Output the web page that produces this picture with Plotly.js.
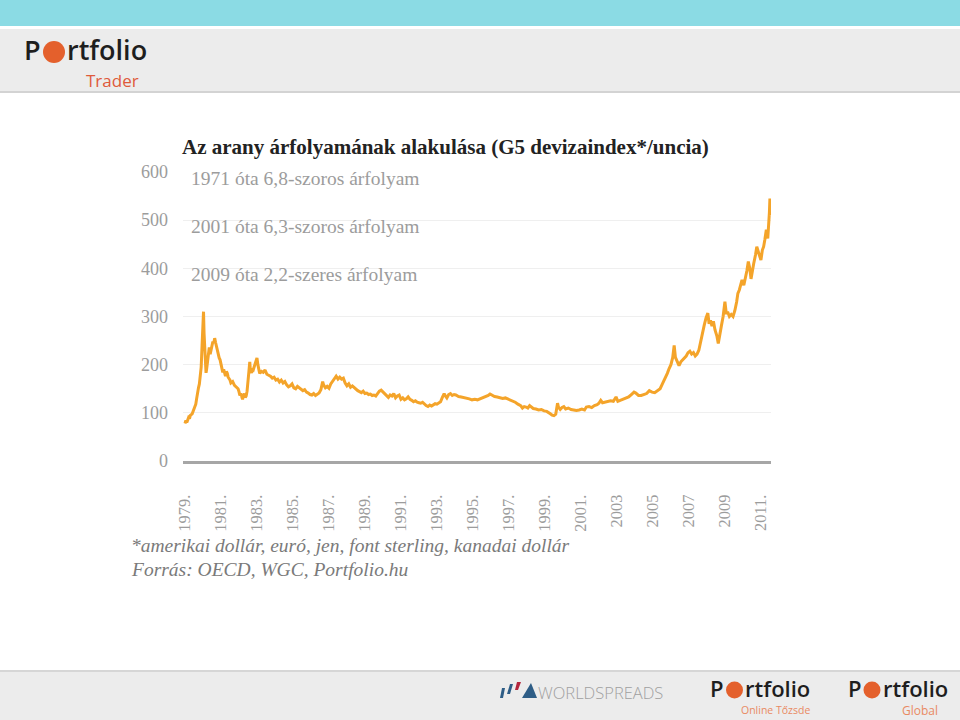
<!DOCTYPE html>
<html>
<head>
<meta charset="utf-8">
<script src="https://cdn.plot.ly/plotly-3.0.1.min.js"></script>
<style>
html,body{margin:0;padding:0;background:#fff;}
#chart{width:960px;height:720px;}
</style>
</head>
<body>
<div id="chart"></div>
<script>
// ---- data ----
const goldYears = [
1979.00,1979.05,1979.10,1979.15,1979.20,1979.25,1979.30,1979.40,1979.45,1979.50,1979.55,1979.60,1979.65,1979.70,1979.75,1979.80,1979.85,1979.90,1979.95,
1980.00,1980.03,1980.06,1980.10,1980.13,1980.17,1980.20,1980.25,1980.30,1980.35,1980.40,1980.45,1980.50,1980.55,1980.60,1980.65,1980.70,1980.75,1980.80,1980.85,1980.90,1980.95,
1981.00,1981.05,1981.10,1981.15,1981.20,1981.25,1981.30,1981.35,1981.40,1981.50,1981.55,1981.65,1981.75,1981.85,1981.95,
1982.00,1982.05,1982.10,1982.15,1982.20,1982.25,1982.30,1982.35,1982.40,1982.45,1982.50,1982.55,1982.60,1982.63,1982.70,1982.75,1982.80,1982.90,1982.95,
1983.00,1983.05,1983.10,1983.15,1983.25,1983.35,1983.45,1983.55,1983.65,1983.75,1983.85,1983.95,
1984.05,1984.15,1984.25,1984.35,1984.45,1984.55,1984.65,1984.75,1984.85,1984.95,
1985.05,1985.15,1985.25,1985.35,1985.45,1985.55,1985.65,1985.75,1985.85,1985.95,
1986.05,1986.15,1986.25,1986.35,1986.45,1986.55,1986.65,1986.70,1986.80,1986.90,
1987.00,1987.10,1987.20,1987.30,1987.40,1987.50,1987.60,1987.70,1987.80,1987.90,
1988.00,1988.10,1988.20,1988.30,1988.40,1988.50,1988.60,1988.70,1988.80,1988.90,
1989.00,1989.10,1989.20,1989.30,1989.40,1989.50,1989.60,1989.70,1989.80,1989.90,
1990.00,1990.10,1990.20,1990.30,1990.40,1990.50,1990.60,1990.70,1990.80,1990.90,
1991.00,1991.10,1991.20,1991.30,1991.40,1991.50,1991.60,1991.70,1991.80,1991.90,
1992.00,1992.10,1992.20,1992.30,1992.40,1992.50,1992.60,1992.70,1992.80,1992.90,
1993.00,1993.10,1993.20,1993.30,1993.40,1993.45,1993.55,1993.65,1993.75,1993.85,1993.95,
1994.05,1994.20,1994.35,1994.50,1994.65,1994.80,1994.95,
1995.10,1995.25,1995.40,1995.55,1995.70,1995.85,1995.95,
1996.05,1996.20,1996.35,1996.50,1996.65,1996.80,1996.95,
1997.05,1997.20,1997.35,1997.50,1997.65,1997.75,1997.85,1997.95,
1998.05,1998.15,1998.25,1998.35,1998.50,1998.65,1998.80,1998.95,
1999.10,1999.20,1999.30,1999.40,1999.50,1999.60,1999.70,1999.75,1999.85,1999.95,
2000.05,2000.15,2000.30,2000.45,2000.60,2000.75,2000.90,
2001.05,2001.20,2001.30,2001.45,2001.60,2001.75,2001.90,
2002.00,2002.10,2002.20,2002.35,2002.50,2002.65,2002.80,2002.95,
2003.05,2003.20,2003.35,2003.50,2003.65,2003.80,2003.95,
2004.05,2004.20,2004.35,2004.50,2004.65,2004.80,2004.95,
2005.10,2005.25,2005.40,2005.50,2005.60,2005.70,2005.80,2005.90,
2006.00,2006.10,2006.18,2006.25,2006.35,2006.45,2006.55,2006.65,2006.75,2006.85,2006.95,
2007.05,2007.15,2007.25,2007.35,2007.45,2007.55,2007.65,2007.75,2007.85,2007.95,
2008.05,2008.12,2008.20,2008.28,2008.36,2008.45,2008.55,2008.63,2008.70,2008.80,2008.90,
2009.00,2009.08,2009.15,2009.25,2009.35,2009.45,2009.55,2009.65,2009.72,2009.80,2009.88,2009.95,
2010.05,2010.15,2010.22,2010.30,2010.38,2010.45,2010.52,2010.60,2010.70,2010.77,2010.85,2010.92,
2011.00,2011.08,2011.15,2011.22,2011.30,2011.38,2011.43,2011.47,2011.50,2011.53
];
const goldIndex = [
78,84,80,86,90,88,95,98,104,108,112,118,130,148,152,160,175,195,240,
272,310,265,240,200,183,190,210,225,236,222,232,240,248,245,255,246,238,226,220,214,210,
198,192,184,190,180,176,186,182,174,168,162,165,157,153,150,
144,136,140,131,128,136,140,132,135,145,160,185,206,190,183,192,190,200,208,
214,200,188,182,186,184,189,180,178,176,172,174,
168,170,164,168,162,165,158,154,156,160,
152,150,155,152,148,146,148,143,141,138,
137,140,136,138,141,148,165,158,152,155,
151,160,166,172,176,170,174,170,172,162,
156,160,153,156,152,150,146,144,142,145,
140,141,138,139,136,137,135,140,145,147,
143,139,134,132,137,135,140,131,135,137,
128,131,127,129,133,128,126,123,125,122,
121,120,122,118,115,113,116,114,117,119,
118,120,123,132,140,136,131,138,140,136,138,
137,134,133,132,131,129,127,
128,127,129,131,133,136,139,
137,134,133,132,130,131,129,
126,124,122,118,115,110,113,112,
110,115,112,109,108,106,107,104,
103,101,98,95,94,97,120,112,107,111,
113,108,110,107,106,105,106,
108,106,112,113,111,115,117,
120,126,121,122,123,125,124,133,
124,126,129,131,133,138,143,
141,136,136,138,140,146,143,
142,146,150,158,166,172,182,192,
200,215,240,215,205,198,206,210,214,218,225,
228,222,225,218,222,230,250,268,282,297,
307,285,292,280,290,272,260,244,262,280,300,
331,305,310,300,304,300,312,330,348,355,370,376,
365,380,395,414,400,378,395,410,428,445,435,428,
417,438,445,460,480,462,485,515,545,510
];
const tickYears = [1979,1981,1983,1985,1987,1989,1991,1993,1995,1997,1999,2001,2003,2005,2007,2009,2011];
const tickLabels = ['1979.','1981.','1983.','1985.','1987.','1989.','1991.','1993.','1995.','1997.','1999.','2001.','2003','2005','2007','2009','2011.'];
const yTicks = [0,100,200,300,400,500,600];
const titleText = 'Az arany árfolyamának alakulása (G5 devizaindex*/uncia)';
const noteLines = ['1971 óta 6,8-szoros árfolyam','2001 óta 6,3-szoros árfolyam','2009 óta 2,2-szeres árfolyam'];
const footLines = ['*amerikai dollár, euró, jen, font sterling, kanadai dollár','Forrás: OECD, WGC, Portfolio.hu'];

// ---- layout helpers (pixel -> paper) ----
const L = 183, R = 771, T = 172, B = 461;
const W = R - L, H = B - T;
const X = px => (px - L) / W;
const Y = py => (B - py) / H;
const rect = (x0, y0, x1, y1, color, layer) => ({type:'rect', xref:'paper', yref:'paper',
  x0:X(x0), x1:X(x1), y0:Y(y1), y1:Y(y0), fillcolor:color, line:{width:0}, layer:layer||'below'});
const circ = (cx, cy, r, color) => ({type:'circle', xref:'paper', yref:'paper',
  x0:X(cx-r), x1:X(cx+r), y0:Y(cy+r), y1:Y(cy-r), fillcolor:color, line:{width:0}, layer:'above'});

const serif = 'Liberation Serif, DejaVu Serif, serif';
const sans = 'Open Sans, Noto Sans, sans-serif';
const txt = (s, px, py, font, xa) => ({text:s, xref:'paper', yref:'paper',
  x:X(px), y:Y(py), xanchor:xa||'left', yanchor:'middle', showarrow:false, font:font});

const shapes = [
  rect(0, 0, 960, 26, '#8BDBE4'),
  rect(0, 29, 960, 91, '#ECECEC'),
  rect(0, 91, 960, 93, '#D3D3D3'),
  rect(0, 670, 960, 672, '#D6D6D6'),
  rect(0, 672, 960, 720, '#ECECEC'),
  // cover the upper gridlines behind the text block
  {type:'rect', xref:'paper', yref:'y', x0:0, x1:X(477), y0:350, y1:650, fillcolor:'#ffffff', line:{width:0}, layer:'between'},
  // logo globes
  circ(54, 52, 11, '#E4602C'),
  circ(734.5, 690, 8.5, '#E4602C'),
  circ(872, 690, 8.5, '#E4602C'),
  // worldspreads mark
  {type:'path', xref:'paper', yref:'paper', path:`M ${X(500)} ${Y(698)} L ${X(503)} ${Y(698)} L ${X(505)} ${Y(688)} L ${X(502)} ${Y(688)} Z`, fillcolor:'#2E5D86', line:{width:0}},
  {type:'path', xref:'paper', yref:'paper', path:`M ${X(507)} ${Y(694)} L ${X(510)} ${Y(694)} L ${X(513)} ${Y(684)} L ${X(510)} ${Y(684)} Z`, fillcolor:'#2E5D86', line:{width:0}},
  {type:'path', xref:'paper', yref:'paper', path:`M ${X(515)} ${Y(690)} L ${X(518)} ${Y(690)} L ${X(521)} ${Y(682)} L ${X(517)} ${Y(682)} Z`, fillcolor:'#B3263D', line:{width:0}},
  {type:'path', xref:'paper', yref:'paper', path:`M ${X(522)} ${Y(698)} L ${X(537)} ${Y(698)} L ${X(531)} ${Y(683)} Z`, fillcolor:'#2E5D86', line:{width:0}}
];

const noteFont = {family:serif, size:19.5, color:'#9C9C9C'};
const footFont = {family:serif, size:19.5, color:'#7A7A7A', style:'italic'};
const logoBig = {family:sans, size:27, color:'#1E1E1E', weight:600};
const logoSmall = {family:sans, size:22, color:'#1E1E1E', weight:600};

const annotations = [
  txt(noteLines[0], 189, 178, noteFont),
  txt(noteLines[1], 189, 226, noteFont),
  txt(noteLines[2], 189, 274, noteFont),
  txt(footLines[0], 129, 545, footFont),
  txt(footLines[1], 129, 569, footFont),
  // header logo
  txt('P', 43, 50, logoBig, 'right'),
  txt('rtfolio', 65, 50, logoBig, 'left'),
  txt('Trader', 141, 80, {family:sans, size:17, color:'#DF5A3B'}, 'right'),
  // footer logos
  txt('WORLDSPREADS', 536, 692, {family:sans, size:16.5, color:'#A0A0A0', weight:300}, 'left'),
  txt('P', 726, 688, logoSmall, 'right'),
  txt('rtfolio', 743, 688, logoSmall, 'left'),
  txt('Online Tőzsde', 812, 710, {family:sans, size:10.5, color:'#E98A63'}, 'right'),
  txt('P', 864, 688, logoSmall, 'right'),
  txt('rtfolio', 881, 688, logoSmall, 'left'),
  txt('Global', 940, 710, {family:sans, size:12, color:'#E98A63'}, 'right')
];

const trace = {
  type:'scatter', mode:'lines', x:goldYears, y:goldIndex,
  line:{color:'#F4A42A', width:3}, hoverinfo:'skip'
};

const layout = {
  width:960, height:720,
  margin:{l:L, r:960-R, t:T, b:720-B, pad:0},
  paper_bgcolor:'#ffffff', plot_bgcolor:'#ffffff',
  showlegend:false,
  title:{text:titleText, x:182/960, xanchor:'left', xref:'container', y:1-147/720, yanchor:'middle', yref:'container',
    font:{family:serif, size:21, color:'#222222', weight:'bold'}},
  xaxis:{range:[1978.89, 2011.56], tickmode:'array', tickvals:tickYears, ticktext:tickLabels, tickangle:-90,
    tickfont:{family:serif, size:16.5, color:'#9C9C9C'}, showgrid:false, zeroline:false,
    showline:true, linecolor:'#A6A6A6', linewidth:3, ticks:'', ticklabelstandoff:24, fixedrange:true},
  yaxis:{range:[0,600], tickmode:'array', tickvals:yTicks, showgrid:true, gridcolor:'#EFEFEF', gridwidth:1,
    zeroline:false, showline:false, ticks:'', tickfont:{family:serif, size:18, color:'#9C9C9C'},
    ticklabelstandoff:14, fixedrange:true},
  shapes:shapes,
  annotations:annotations
};

Plotly.newPlot('chart', [trace], layout, {displayModeBar:false, staticPlot:true});
</script>
</body>
</html>
